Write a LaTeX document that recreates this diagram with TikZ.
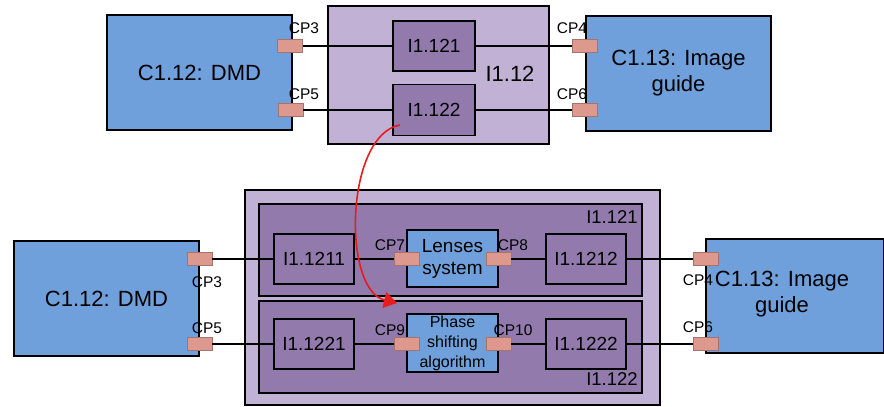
\documentclass[tikz,border=0pt]{standalone}
\usepackage{fontspec}
\setmainfont{Liberation Sans}
\usetikzlibrary{arrows.meta}
\definecolor{cblue}{RGB}{111,160,220}
\definecolor{plight}{RGB}{193,177,212}
\definecolor{pdark}{RGB}{146,122,172}
\definecolor{cpfill}{RGB}{221,153,142}
\definecolor{arr}{RGB}{232,28,28}
\tikzset{
  cb/.style={draw,fill=cblue,inner sep=0pt,align=center,font=\fontsize{22}{26}\selectfont},
  grp/.style={draw,fill=plight,inner sep=0pt},
  sgrp/.style={draw,fill=pdark,inner sep=0pt},
  ib/.style={draw,fill=pdark,inner sep=0pt,font=\fontsize{19}{21}\selectfont},
  alg/.style={draw,fill=cblue,inner sep=0pt,align=center},
  cp/.style={draw=cpfill!75!black,line width=0.5pt,fill=cpfill,minimum width=25pt,minimum height=13pt,inner sep=0pt},
  cpl/.style={inner sep=0pt,font=\fontsize{15.5}{17}\selectfont},
  gl/.style={inner sep=0pt,font=\fontsize{19}{21}\selectfont},
  every picture/.style={line width=1.2pt},
}
\begin{document}
\begin{tikzpicture}[x=1pt,y=-1pt]
\useasboundingbox (0,0) rectangle (884,407);
\node[cb,minimum width=185pt,minimum height=115pt] (dmdA) at (199.5,72.5){C1.12: DMD};
\node[cb,minimum width=185pt,minimum height=115pt] (igA) at (678.5,73.5){C1.13: Image\\guide};
\node[grp,minimum width=221pt,minimum height=138pt] (gA) at (438.5,75){};
\node[gl,font=\fontsize{22}{24}\selectfont] (gAl) at (510,74){I1.12};
\node[ib,minimum width=82pt,minimum height=50pt] (iA1) at (434,46){I1.121};
\node[ib,minimum width=82pt,minimum height=51pt] (iA2) at (434,110){I1.122};
\node[cp] (cp3a) at (290,46){}; \node[cp] (cp5a) at (290.5,110){};
\node[cp] (cp4a) at (584.5,46){}; \node[cp] (cp6a) at (584.5,110){};
\draw (cp3a.east)--(iA1.west); \draw (iA1.east)--(cp4a.west);
\draw (cp5a.east)--(iA2.west); \draw (iA2.east)--(cp6a.west);
\node[cpl] (l3a) at (304,28){CP3}; \node[cpl] (l5a) at (304,94){CP5};
\node[cpl] (l4a) at (572,28){CP4}; \node[cpl] (l6a) at (572,94){CP6};
\node[cb,minimum width=185pt,minimum height=115pt] (dmdB) at (106.5,298.5){};
\node[draw,fill=cblue,minimum width=178pt,minimum height=114pt,inner sep=0pt] (igB) at (795,296){};
\node[inner sep=0pt,align=center,font=\fontsize{22}{26}\selectfont] (igBl) at (782,294){C1.13: Image\\guide};
\node[inner sep=0pt,font=\fontsize{22}{26}\selectfont] (dmdBl) at (106.5,298.5){C1.12: DMD};
\node[grp,minimum width=415pt,minimum height=215pt] (gB) at (452.5,297.5){};
\node[sgrp,minimum width=383pt,minimum height=92pt] (gB1) at (450.5,250){};
\node[sgrp,minimum width=383pt,minimum height=92pt] (gB2) at (450.5,347){};
\node[gl,font=\fontsize{18.5}{20}\selectfont] (gB1l) at (612,217){I1.121};
\node[gl,font=\fontsize{18.5}{20}\selectfont] (gB2l) at (612,379){I1.122};
\node[ib,minimum width=80pt,minimum height=50pt] (i1211) at (314,259){I1.1211};
\node[ib,minimum width=80pt,minimum height=50pt] (i1221) at (314,344){I1.1221};
\node[ib,minimum width=80pt,minimum height=50pt] (i1212) at (586,259){I1.1212};
\node[ib,minimum width=80pt,minimum height=50pt] (i1222) at (586,344){I1.1222};
\node[alg,minimum width=91pt,minimum height=57pt,font=\fontsize{19}{22}\selectfont] (lens) at (452.5,258.5){Lenses\\system};
\node[alg,minimum width=91pt,minimum height=58pt,font=\fontsize{16}{20}\selectfont] (phase) at (452.5,343){Phase\\shifting\\algorithm};
\node[cp] (cp3b) at (199.5,259){}; \node[cp] (cp5b) at (199.5,344){};
\node[cp] (cp7) at (406.5,259){}; \node[cp] (cp8) at (498.5,259){};
\node[cp] (cp9) at (406.5,344){}; \node[cp] (cp10) at (498.5,344){};
\node[cp] (cp4b) at (705.5,259){}; \node[cp] (cp6b) at (705.5,344){};
\draw (cp3b.east)--(i1211.west); \draw (i1211.east)--(cp7.west);
\draw (cp8.east)--(i1212.west); \draw (i1212.east)--(cp4b.west);
\draw (cp5b.east)--(i1221.west); \draw (i1221.east)--(cp9.west);
\draw (cp10.east)--(i1222.west); \draw (i1222.east)--(cp6b.west);
\node[cpl] (l3b) at (207,282){CP3}; \node[cpl] (l5b) at (207,328){CP5};
\node[cpl] (l7) at (390,245){CP7}; \node[cpl] (l8) at (513,245){CP8};
\node[cpl] (l9) at (390,330){CP9}; \node[cpl] (l10) at (513,330){CP10};
\node[cpl] (l4b) at (698,280){CP4}; \node[cpl] (l6b) at (698,327){CP6};
\coordinate (fromA) at (400,125); \coordinate (toB) at (397,303);
\draw[arr,line width=1.6pt,-{Triangle[length=13pt,width=16pt]}] (fromA) .. controls (345,135) and (342,290) .. (toB);
\end{tikzpicture}
\end{document}
